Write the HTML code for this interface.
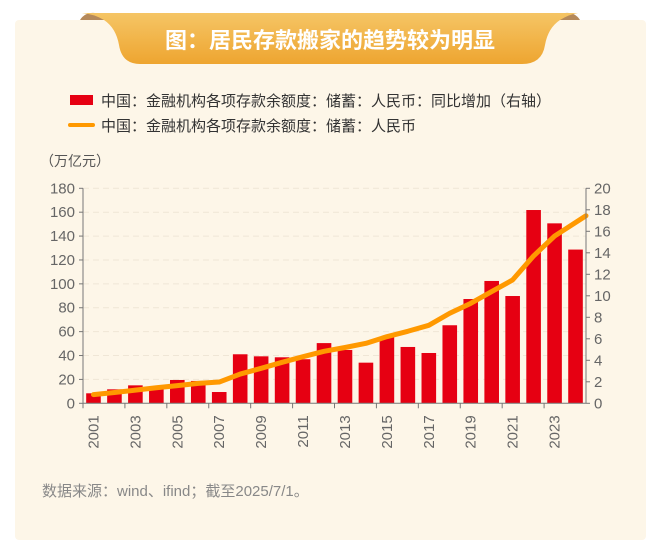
<!DOCTYPE html>
<html><head><meta charset="utf-8">
<style>
body{margin:0;background:#fff;width:660px;height:549px;overflow:hidden;font-family:"Liberation Sans","Noto Sans CJK SC",sans-serif;}
</style></head>
<body>
<svg width="660" height="549" xmlns="http://www.w3.org/2000/svg" font-family="Liberation Sans, Noto Sans CJK SC, sans-serif">
<defs>
<linearGradient id="gold" x1="0" y1="0" x2="0" y2="1"><stop offset="0" stop-color="#f5c565"/><stop offset="1" stop-color="#eea530"/></linearGradient>
</defs>
<rect x="15" y="20" width="631" height="520" rx="4" fill="#fdf6e8"/>
<path d="M80,20 Q85,12 95,13 L110,20 Z" fill="#b5895a"/>
<path d="M580,20 Q575,12 565,13 L550,20 Z" fill="#b5895a"/>
<path d="M82,13 L578,13 Q570,14 560,20 Q548,28 545,45 Q542,64 522,64 L140,64 Q122,64 119,45 Q116,28 104,20 Q94,14 82,13 Z" fill="url(#gold)"/>
<text x="330" y="48" text-anchor="middle" font-size="22" font-weight="bold" fill="#fff">图：居民存款搬家的趋势较为明显</text>
<rect x="70" y="95" width="23" height="10" fill="#e60012"/>
<text x="101" y="106" font-size="15" fill="#333">中国：金融机构各项存款余额度：储蓄：人民币：同比增加（右轴）</text>
<line x1="70" y1="125" x2="93" y2="125" stroke="#ff9900" stroke-width="4" stroke-linecap="round"/>
<text x="101" y="131" font-size="15" fill="#333">中国：金融机构各项存款余额度：储蓄：人民币</text>
<text x="40" y="166" font-size="14" fill="#555">（万亿元）</text>
<g id="chart"></g>
<text x="42" y="496" font-size="15" fill="#888">数据来源：wind、ifind；截至2025/7/1。</text>
</svg>
<script>
const years=[2001,2002,2003,2004,2005,2006,2007,2008,2009,2010,2011,2012,2013,2014,2015,2016,2017,2018,2019,2020,2021,2022,2023,2024];
const increase=[0.93,1.3,1.67,1.6,2.17,2.08,1.05,4.56,4.37,4.28,4.1,5.6,4.96,3.78,6.14,5.24,4.68,7.26,9.7,11.38,9.98,17.98,16.74,14.3];
const balance=[7.3,9,11,13,14.8,16.7,17.8,24.5,29.3,34.3,39,43.5,46.7,50.2,55.8,60.3,65.3,75.4,83.7,93.5,103.3,123.4,140,157];
const leftTicks=[0,20,40,60,80,100,120,140,160,180];
const rightTicks=[0,2,4,6,8,10,12,14,16,18,20];
const X0=83,X1=586,Y0=403.3,Y1=188.3;
const slot=(X1-X0)/years.length;
const xc=i=>X0+slot*(i+0.5);
const xLine=i=>i===years.length-1?X1:xc(i);
const yL=v=>Y0-(v/180)*(Y0-Y1);
const yR=v=>Y0-(v/20)*(Y0-Y1);
const NS="http://www.w3.org/2000/svg";
const g=document.getElementById('chart');
function mk(t,a){const e=document.createElementNS(NS,t);for(const k in a)e.setAttribute(k,a[k]);g.appendChild(e);return e;}
leftTicks.forEach(v=>{
  if(v>0){const gl=mk('line',{x1:X0,x2:X1,y1:yL(v),y2:yL(v),stroke:'#efe6d6','stroke-dasharray':'6,4'});
  
  }
  const t=mk('text',{x:X0-8,y:yL(v)+5,'text-anchor':'end','font-size':15,fill:'#666'});t.textContent=v;
  
  
  const tk=mk('line',{x1:X0-4,x2:X0,y1:yL(v),y2:yL(v),stroke:'#777'});
  
  
});
rightTicks.forEach(v=>{
  const t=mk('text',{x:X1+8,y:yR(v)+5,'font-size':15,fill:'#666'});t.textContent=v;
  
  
  const tk=mk('line',{x1:X1,x2:X1+4,y1:yR(v),y2:yR(v),stroke:'#777'});
  
  
});
increase.forEach((v,i)=>{
  const b=mk('rect',{x:xc(i)-7.3,y:yR(v),width:14.6,height:Y0-yR(v),fill:'#e60012'});
  
  
});
const pts=balance.map((v,i)=>xLine(i)+','+yL(v)).join(' ');
const pl=mk('polyline',{points:pts,fill:'none',stroke:'#ff9900','stroke-width':5,'stroke-linejoin':'round','stroke-linecap':'round'});


const la=mk('line',{x1:X0,x2:X0,y1:Y1,y2:Y0,stroke:'#777'});


const ra=mk('line',{x1:X1,x2:X1,y1:Y1,y2:Y0,stroke:'#777'});


const xa=mk('line',{x1:X0,x2:X1,y1:Y0,y2:Y0,stroke:'#777'});


years.forEach((y,i)=>{
  if(i%2===0){
    const tk=mk('line',{x1:X0+slot*i,x2:X0+slot*i,y1:Y0,y2:Y0+5,stroke:'#777'});
    
    
    const cx=xc(i)+5;
    const t=mk('text',{x:cx,y:Y0+12,'font-size':15,fill:'#666','text-anchor':'end',transform:'rotate(-90 '+cx+' '+(Y0+12)+')'});
    t.textContent=y;
    
    
  }
});
</script>
</body></html>
